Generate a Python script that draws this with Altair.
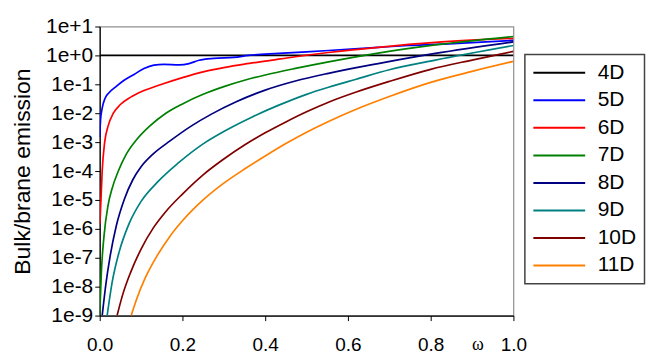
import altair as alt
import pandas as pd

series = ["4D", "5D", "6D", "7D", "8D", "9D", "10D", "11D"]
colors = ["#000000", "#0000FF", "#FF0000", "#008000", "#000080", "#008080", "#800000", "#FF8000"]

x_4d = [0.0, 1.0]
y_4d = [1.0, 1.0]

x_5d = [0.0, 0.002, 0.006, 0.013, 0.023, 0.040, 0.059, 0.083, 0.107, 0.131, 0.155, 0.192,
        0.216, 0.240, 0.276, 0.324, 0.360, 0.433, 0.553, 0.673, 0.746, 0.866, 1.0]
y_5d = [1.5e-3, 5.8e-3, 1.5e-2, 3.3e-2, 5.2e-2, 8.5e-2, 0.138, 0.22, 0.35, 0.46, 0.49, 0.47,
        0.52, 0.68, 0.79, 0.85, 1.0, 1.17, 1.48, 1.9, 2.2, 2.6, 3.3]

x_6d = [0.0005, 0.003, 0.006, 0.012, 0.02, 0.033, 0.05, 0.075, 0.1, 0.15, 0.2, 0.25, 0.3,
        0.35, 0.4, 0.473, 0.553, 0.673, 0.811, 1.0]
y_6d = [1.5e-6, 1e-5, 1e-4, 1e-3, 3.5e-3, 1e-2, 2.0e-2, 3.6e-2, 5.5e-2, 0.1, 0.17, 0.27, 0.38,
        0.5, 0.63, 0.9, 1.26, 1.9, 2.8, 3.9]

x_7d = [0.0, 0.004, 0.01, 0.02, 0.03, 0.045, 0.065, 0.09, 0.12, 0.16, 0.2, 0.25, 0.3, 0.35,
        0.4, 0.473, 0.553, 0.673, 0.811, 1.0]
y_7d = [1e-9, 3.2e-8, 5e-7, 6.3e-6, 2.5e-5, 1e-4, 4e-4, 1.26e-3, 3.5e-3, 1e-2, 2.1e-2, 4.5e-2,
        8.3e-2, 0.138, 0.21, 0.355, 0.6, 1.2, 2.3, 4.5]

x_8d = [0.006, 0.015, 0.025, 0.04, 0.06, 0.08, 0.1, 0.13, 0.17, 0.22, 0.27, 0.33, 0.4, 0.473,
        0.553, 0.673, 0.811, 1.0]
y_8d = [1e-9, 1.26e-8, 1.1e-7, 1.26e-6, 1.1e-5, 5e-5, 1.4e-4, 4e-4, 1.1e-3, 3.5e-3, 9.3e-3,
        2.5e-2, 6.3e-2, 0.13, 0.24, 0.52, 1.17, 2.95]

x_9d = [0.018, 0.03, 0.047, 0.07, 0.1, 0.14, 0.19, 0.25, 0.31, 0.37, 0.433, 0.5, 0.553, 0.62,
        0.7, 0.811, 1.0]
y_9d = [1e-9, 1.4e-8, 1.6e-7, 1.4e-6, 8.9e-6, 4.2e-5, 1.9e-4, 8.7e-4, 2.8e-3, 7.6e-3, 1.9e-2,
        4.5e-2, 7.9e-2, 0.15, 0.32, 0.69, 2.2]

x_10d = [0.042, 0.055, 0.075, 0.1, 0.13, 0.16, 0.2, 0.25, 0.3, 0.35, 0.4, 0.45, 0.5, 0.553,
         0.62, 0.7, 0.8, 0.9, 1.0]
y_10d = [1e-9, 5e-9, 3.2e-8, 2e-7, 1.1e-6, 4e-6, 1.6e-5, 7.4e-5, 2.6e-4, 7.9e-4, 2.1e-3, 5e-3,
         1.12e-2, 2.4e-2, 5.4e-2, 0.126, 0.33, 0.69, 1.38]

x_11d = [0.076, 0.09, 0.11, 0.14, 0.17, 0.2, 0.25, 0.3, 0.35, 0.4, 0.45, 0.5, 0.553, 0.62,
         0.7, 0.8, 0.9, 1.0]
y_11d = [1e-9, 4e-9, 2e-8, 1.26e-7, 5.6e-7, 1.9e-6, 1e-5, 3.8e-5, 1.17e-4, 3.3e-4, 8.9e-4,
         2.2e-3, 5.2e-3, 1.38e-2, 3.8e-2, 0.117, 0.28, 0.62]

y_ticks = [1e-9, 1e-8, 1e-7, 1e-6, 1e-5, 1e-4, 1e-3, 1e-2, 1e-1, 1e0, 1e1]
x_ticks = [0.0, 0.2, 0.4, 0.6, 0.8, 1.0]

xs = [x_4d, x_5d, x_6d, x_7d, x_8d, x_9d, x_10d, x_11d]
ys = [y_4d, y_5d, y_6d, y_7d, y_8d, y_9d, y_10d, y_11d]

rows = []
for name, xv, yv in zip(series, xs, ys):
    for i, (a, b) in enumerate(zip(xv, yv)):
        rows.append({"series": name, "w": a, "v": b, "i": i})
df = pd.DataFrame(rows)

FONT = "Liberation Sans"

chart = alt.Chart(df).mark_line(strokeWidth=1.7, interpolate="monotone", clip=True).encode(
    x=alt.X("w:Q",
            scale=alt.Scale(domain=[0, 1], nice=False),
            axis=alt.Axis(values=x_ticks, format=".1f", title="ω",
                          titleFont="Liberation Serif", titleFontSize=18, titleFontWeight="normal",
                          titleX=379, titleY=29, titleBaseline="middle", titleAlign="center",
                          labelFontSize=19, labelPadding=15, tickSize=5,
                          labelFlush=False)),
    y=alt.Y("v:Q",
            scale=alt.Scale(type="log", domain=[1e-9, 10], nice=False),
            axis=alt.Axis(values=y_ticks,
                          labelExpr="'1e' + (round(log(datum.value)/LN10) >= 0 ? '+' : '') + round(log(datum.value)/LN10)",
                          title="Bulk/brane emission", titleFontSize=23, titleFontWeight="normal",
                          titlePadding=11, labelFontSize=21, labelPadding=2, tickSize=5,
                          labelFlush=False)),
    color=alt.Color("series:N",
                    scale=alt.Scale(domain=series, range=colors),
                    sort=series,
                    legend=alt.Legend(title=None, orient="none", legendX=426.5, legendY=28,
                                      symbolType="M-3,0H3", symbolSize=300, symbolStrokeWidth=2,
                                      symbolOffset=16, labelFontSize=21, labelOffset=28,
                                      rowPadding=5.6, padding=8, strokeColor="#444444",
                                      fillColor="white", labelFont=FONT)),
    order=alt.Order("i:Q"),
).properties(
    width=415, height=290,
    padding={"left": 3, "top": 7, "right": 0, "bottom": 0},
).configure_axis(
    grid=False, domainColor="black", tickColor="black", labelColor="black", titleColor="black",
    labelFont=FONT, titleFont=FONT, domainWidth=1.2,
).configure_view(
    stroke="#909090", strokeWidth=1.2,
).configure_legend(
    labelColor="black", strokeWidth=1.5,
)

chart.save("out.html", embed_options={"renderer": "svg", "actions": False})
